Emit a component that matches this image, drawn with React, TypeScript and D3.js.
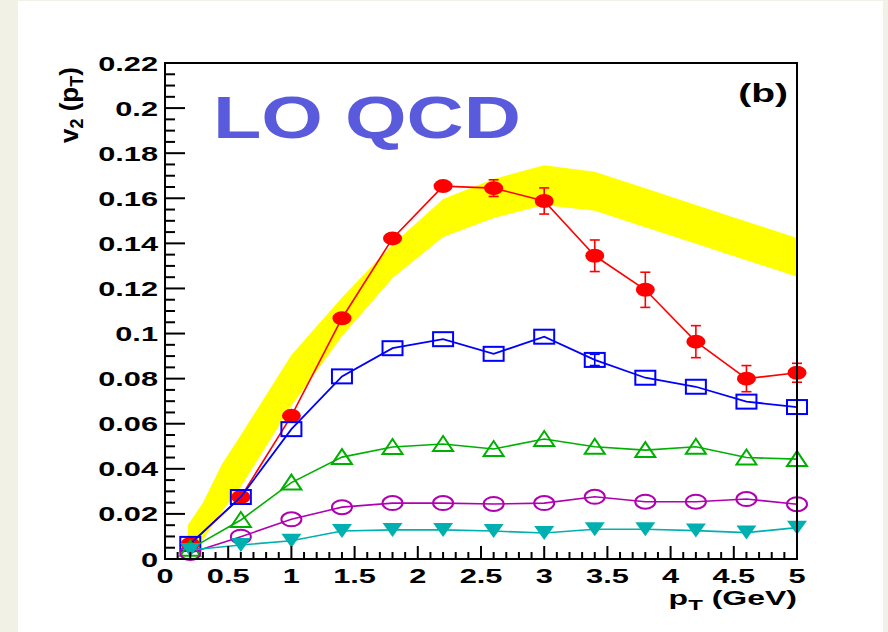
import React from "react";
import * as d3 from "d3";

const pT = [0.2, 0.6, 1.0, 1.4, 1.8, 2.2, 2.6, 3.0, 3.4, 3.8, 4.2, 4.6, 5.0];
const redV2 = [0.0067, 0.0275, 0.0635, 0.1068, 0.1422, 0.1654, 0.1645, 0.1588, 0.1345, 0.1194, 0.0964, 0.080, 0.0826];
const redErr = [0.001, 0.0015, 0.002, 0.002, 0.002, 0.002, 0.0037, 0.0058, 0.007, 0.0078, 0.0071, 0.0058, 0.0042];
const blueV2 = [0.0067, 0.0275, 0.0576, 0.0810, 0.0935, 0.0975, 0.091, 0.0986, 0.0883, 0.0804, 0.0764, 0.0698, 0.0674];
const blueErr = [0, 0, 0, 0, 0, 0, 0, 0, 0.0025, 0, 0, 0, 0];
const greenV2 = [0.0045, 0.0173, 0.0339, 0.0452, 0.0497, 0.051, 0.0488, 0.0532, 0.0498, 0.0483, 0.0498, 0.045, 0.0443];
const magentaV2 = [0.0027, 0.0099, 0.0176, 0.023, 0.0248, 0.0248, 0.0244, 0.0248, 0.0276, 0.0254, 0.0254, 0.0266, 0.0243];
const cyanV2 = [0.004, 0.0062, 0.0081, 0.0124, 0.0129, 0.0129, 0.0124, 0.0115, 0.0132, 0.0132, 0.0126, 0.0117, 0.0139];

const bandX = [0.18, 0.3, 0.45, 0.6, 1.0, 1.4, 1.8, 2.2, 2.6, 3.0, 3.4, 3.8, 4.2, 4.6, 5.0];
const bandHi = [0.015, 0.025, 0.042, 0.055, 0.0905, 0.116, 0.1395, 0.1597, 0.1686, 0.1747, 0.1718, 0.1644, 0.157, 0.1497, 0.1424];
const bandLo = [0.0055, 0.0085, 0.021, 0.032, 0.068, 0.0988, 0.1246, 0.1428, 0.1513, 0.157, 0.1545, 0.1471, 0.1398, 0.1325, 0.1252];

const yTicks = [0, 0.02, 0.04, 0.06, 0.08, 0.1, 0.12, 0.14, 0.16, 0.18, 0.2, 0.22];
const yTickLabels = ["0", "0.02", "0.04", "0.06", "0.08", "0.1", "0.12", "0.14", "0.16", "0.18", "0.2", "0.22"];
const xTicks = [0, 0.5, 1, 1.5, 2, 2.5, 3, 3.5, 4, 4.5, 5];
const xTickLabels = ["0", "0.5", "1", "1.5", "2", "2.5", "3", "3.5", "4", "4.5", "5"];

const FONT = "'Liberation Sans', Arial, Helvetica, sans-serif";

export default function App() {
  const W = 888, H = 632;
  const x0 = 165, x1 = 797, y0 = 559, y1 = 63;
  const x = d3.scaleLinear().domain([0, 5]).range([x0, x1]);
  const y = d3.scaleLinear().domain([0, 0.22]).range([y0, y1]);

  const bandData = bandX.map((v, i) => ({ x: v, lo: bandLo[i], hi: bandHi[i] }));
  const area = d3.area<any>().x((d) => x(d.x)).y0((d) => y(d.lo)).y1((d) => y(d.hi));
  const line = d3.line<number>().x((_, i) => x(pT[i])).y((d) => y(d));

  const yMinor = d3.range(0, 0.2201, 0.005);
  const xMinor = d3.range(0, 5.001, 0.1);

  const sx = 1.5;

  const red = "#ff0000", blue = "#0000ff", green = "#00b000", magenta = "#b000b0", cyan = "#00b0b0";

  const upTri = (cx: number, cy: number) => `M${cx - 10},${cy + 7}L${cx + 10},${cy + 7}L${cx},${cy - 8}Z`;
  const downTri = (cx: number, cy: number) => `M${cx - 10},${cy - 7}L${cx + 10},${cy - 7}L${cx},${cy + 7}Z`;

  return (
    <svg width={W} height={H} style={{ position: "absolute", left: 0, top: 0 }}>
      <rect x={0} y={0} width={W} height={H} fill="#f1f1e5" />
      <rect x={18} y={1} width={865} height={H - 1} fill="#ffffff" />

      {/* band */}
      <path d={area(bandData) || ""} fill="#ffff00" />

      {/* red series */}
      <path d={line(redV2) || ""} fill="none" stroke={red} strokeWidth={1.6} />
      {redV2.map((v, i) => (
        redErr[i] > 0 ? (
          <g key={"re" + i} stroke={red} strokeWidth={1.6}>
            <line x1={x(pT[i])} x2={x(pT[i])} y1={y(v - redErr[i])} y2={y(v + redErr[i])} />
            <line x1={x(pT[i]) - 5} x2={x(pT[i]) + 5} y1={y(v - redErr[i])} y2={y(v - redErr[i])} />
            <line x1={x(pT[i]) - 5} x2={x(pT[i]) + 5} y1={y(v + redErr[i])} y2={y(v + redErr[i])} />
          </g>
        ) : null
      ))}
      {redV2.map((v, i) => (
        <ellipse key={"r" + i} cx={x(pT[i])} cy={y(v)} rx={9.5} ry={7} fill={red} />
      ))}

      {/* blue series */}
      <path d={line(blueV2) || ""} fill="none" stroke={blue} strokeWidth={1.8} />
      {blueV2.map((v, i) => (
        blueErr[i] > 0 ? (
          <g key={"be" + i} stroke={blue} strokeWidth={1.6}>
            <line x1={x(pT[i])} x2={x(pT[i])} y1={y(v - blueErr[i])} y2={y(v + blueErr[i])} />
            <line x1={x(pT[i]) - 5} x2={x(pT[i]) + 5} y1={y(v - blueErr[i])} y2={y(v - blueErr[i])} />
            <line x1={x(pT[i]) - 5} x2={x(pT[i]) + 5} y1={y(v + blueErr[i])} y2={y(v + blueErr[i])} />
          </g>
        ) : null
      ))}
      {blueV2.map((v, i) => (
        <rect key={"b" + i} x={x(pT[i]) - 10} y={y(v) - 7} width={20} height={14} fill="none" stroke={blue} strokeWidth={2} />
      ))}

      {/* green series */}
      <path d={line(greenV2) || ""} fill="none" stroke={green} strokeWidth={1.6} />
      {greenV2.map((v, i) => (
        <path key={"g" + i} d={upTri(x(pT[i]), y(v))} fill="none" stroke={green} strokeWidth={2} />
      ))}

      {/* magenta series */}
      <path d={line(magentaV2) || ""} fill="none" stroke={magenta} strokeWidth={1.6} />
      {magentaV2.map((v, i) => (
        <ellipse key={"m" + i} cx={x(pT[i])} cy={y(v)} rx={10} ry={7} fill="none" stroke={magenta} strokeWidth={2} />
      ))}

      {/* cyan series */}
      <path d={line(cyanV2) || ""} fill="none" stroke={cyan} strokeWidth={1.6} />
      {cyanV2.map((v, i) => (
        <path key={"c" + i} d={downTri(x(pT[i]), y(v))} fill={cyan} />
      ))}

      {/* frame */}
      <rect x={x0} y={y1} width={x1 - x0} height={y0 - y1} fill="none" stroke="#000" strokeWidth={2} />

      {/* y ticks */}
      {yMinor.map((t, i) => {
        const major = i % 4 === 0;
        return <line key={"ym" + i} x1={x0} x2={x0 + (major ? 20 : 10)} y1={y(t)} y2={y(t)} stroke="#000" strokeWidth={2} />;
      })}
      {/* x ticks */}
      {xMinor.map((t, i) => {
        const major = i % 5 === 0;
        return <line key={"xm" + i} x1={x(t)} x2={x(t)} y1={y0} y2={y0 - (major ? 13 : 7)} stroke="#000" strokeWidth={2} />;
      })}

      {/* y tick labels */}
      {yTicks.map((t, i) => (
        <text key={"yl" + i} transform={`translate(${x0 - 7},${y(t) + 7.5}) scale(${sx},1)`} textAnchor="end"
          fontFamily={FONT} fontWeight="bold" fontSize={20.5} fill="#000">{yTickLabels[i]}</text>
      ))}
      {/* x tick labels */}
      {xTicks.map((t, i) => (
        <text key={"xl" + i} transform={`translate(${x(t)},${583}) scale(${sx},1)`} textAnchor="middle"
          fontFamily={FONT} fontWeight="bold" fontSize={20.5} fill="#000">{xTickLabels[i]}</text>
      ))}

      {/* x title */}
      <text transform={`translate(${x1},605) scale(1.6,1)`} textAnchor="end" fontFamily={FONT} fontWeight="bold" fontSize={20} fill="#000">
        p<tspan fontSize={15} dy={5}>T</tspan><tspan dy={-5}> (GeV)</tspan>
      </text>

      {/* y title */}
      <text transform={`translate(78,143) rotate(-90)`} textAnchor="start" fontFamily={FONT} fontWeight="bold" fontSize={26} fill="#000">
        v<tspan fontSize={18} dy={5}>2</tspan><tspan dy={-5}> (p</tspan><tspan fontSize={18} dy={5}>T</tspan><tspan dy={-5}>)</tspan>
      </text>

      {/* LO QCD */}
      <text transform={`translate(213,138) scale(1.32,1)`} fontFamily={FONT} fontWeight="bold" fontSize={60} fill="#5a5adc">LO QCD</text>

      {/* (b) */}
      <text transform={`translate(788,102) scale(1.5,1)`} textAnchor="end" fontFamily={FONT} fontWeight="bold" fontSize={26} fill="#000">(b)</text>
    </svg>
  );
}
